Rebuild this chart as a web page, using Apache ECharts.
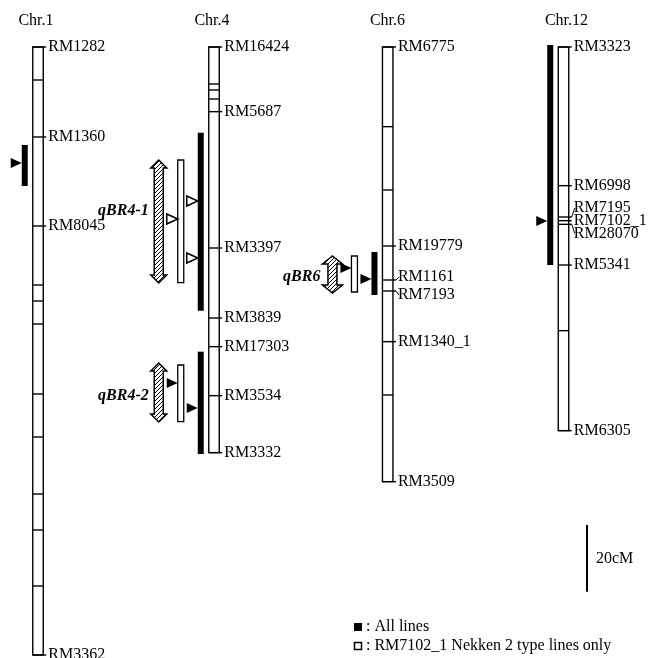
<!DOCTYPE html>
<html>
<head>
<meta charset="utf-8">
<script src="https://cdn.jsdelivr.net/npm/echarts@6/dist/echarts.min.js"></script>
<style>html,body{margin:0;padding:0;background:#fff}#main{width:649px;height:658px}</style>
</head>
<body>
<div id="main"></div>
<script>
// chromosomes (positions in cM from the top of each chromosome)
var chromNames = ['Chr.1', 'Chr.4', 'Chr.6', 'Chr.12'];
var chromLength = [182.4, 121.7, 130.4, 115.1];

var chr1Pos = [0, 9.9, 27.0, 53.7, 71.4, 76.2, 83.1, 104.1, 117.0, 134.1, 144.9, 161.7, 182.4];
var chr1Names = ['RM1282', '', 'RM1360', 'RM8045', '', '', '', '', '', '', '', '', 'RM3362'];
var chr4Pos = [0, 11.1, 12.9, 15.6, 19.4, 60.3, 81.3, 89.9, 104.6, 121.7];
var chr4Names = ['RM16424', '', '', '', 'RM5687', 'RM3397', 'RM3839', 'RM17303', 'RM3534', 'RM3332'];
var chr6Pos = [0, 23.9, 42.9, 59.7, 69.9, 73.2, 88.4, 104.4, 130.4];
var chr6Names = ['RM6775', '', '', 'RM19779', 'RM1161', 'RM7193', 'RM1340_1', '', 'RM3509'];
var chr12Pos = [0, 41.6, 51.0, 52.1, 53.2, 65.4, 85.1, 115.1];
var chr12Names = ['RM3323', 'RM6998', 'RM7195', 'RM7102_1', 'RM28070', 'RM5341', '', 'RM6305'];

// regions: all lines (black) and RM7102_1 Nekken 2 type lines only (open)
var allChrom = [0, 1, 1, 2, 3];
var allStart = [29.4, 25.7, 91.4, 61.5, -0.6];
var allEnd = [41.7, 79.1, 122.1, 74.4, 65.4];
var nekChrom = [1, 1, 2];
var nekStart = [33.9, 95.4, 62.7];
var nekEnd = [70.7, 112.4, 73.5];

// peak triangles
var peakChrom = [0, 1, 1, 1, 1, 1, 2, 2, 3];
var peakPos = [34.8, 46.2, 51.6, 63.3, 100.8, 108.3, 66.3, 69.6, 52.2];
var peakSet = ['all', 'all', 'nek', 'all', 'nek', 'all', 'nek', 'all', 'all'];
var peakSolid = [true, false, false, false, true, true, true, true, true];

// QTL
var qtlNames = ['qBR4-1', 'qBR4-2', 'qBR6'];
var qtlChrom = [1, 1, 2];
var qtlStart = [33.9, 94.8, 62.7];
var qtlEnd = [70.8, 112.5, 73.8];

var scaleBarLen = 20;
var legendTexts = [': All lines', ': RM7102_1 Nekken 2 type lines only'];

// layout
var markerPos = [chr1Pos, chr4Pos, chr6Pos, chr12Pos];
var markerNames = [chr1Names, chr4Names, chr6Names, chr12Names];
var chromX = [38, 214, 387.7, 563.5];
var titleX = [36, 212, 387.5, 566.5];
var chromW = 10.5;
var labelShift = [{}, {}, {RM1161: -3, RM7193: 4}, {RM7195: -9, RM28070: 9}];
var qtlLabelDy = [-10.5, 3, 2];
var qtlHalfW = [8, 8, 10];
var FONT = '"Liberation Serif", "Times New Roman", serif';

var hatch = document.createElement('canvas');
hatch.width = 4; hatch.height = 4;
var hc = hatch.getContext('2d');
hc.fillStyle = '#fff'; hc.fillRect(0, 0, 4, 4);
hc.strokeStyle = '#000'; hc.lineWidth = 1;
hc.beginPath();
hc.moveTo(0, 4); hc.lineTo(4, 0);
hc.moveTo(-1, 1); hc.lineTo(1, -1);
hc.moveTo(3, 5); hc.lineTo(5, 3);
hc.stroke();

function yOf(api, cm) { return api.coord([0, cm])[1]; }

function renderChrom(params, api) {
  var i = api.value(0);
  var left = chromX[i] - chromW / 2, right = chromX[i] + chromW / 2;
  var top = yOf(api, 0), bot = yOf(api, chromLength[i]);
  var ch = [{
    type: 'rect', shape: {x: left, y: top, width: chromW, height: bot - top},
    style: {fill: '#fff', stroke: '#000', lineWidth: 1.4}
  }];
  var pos = markerPos[i], names = markerNames[i], sh = labelShift[i];
  for (var k = 0; k < pos.length; k++) {
    var y = yOf(api, pos[k]);
    var named = names[k] !== '';
    ch.push({type: 'line', shape: {x1: left, y1: y, x2: named ? right + 3 : right, y2: y},
      style: {stroke: '#000', lineWidth: 1.4}});
    if (named) {
      var ly = y + (sh[names[k]] || 0);
      if (ly !== y) {
        ch.push({type: 'line', shape: {x1: right + 3, y1: y, x2: right + 6, y2: ly},
          style: {stroke: '#000', lineWidth: 1}});
      }
      ch.push({type: 'text', style: {text: names[k], x: right + 5, y: ly,
        fill: '#000', fontSize: 16, fontFamily: FONT, align: 'left', verticalAlign: 'middle'}});
    }
  }
  ch.push({type: 'text', style: {text: chromNames[i], x: titleX[i], y: top - 26,
    fill: '#000', fontSize: 16, fontFamily: FONT, align: 'center', verticalAlign: 'middle'}});
  return {type: 'group', children: ch};
}

function renderRegion(chromArr, startArr, endArr, offset, filled) {
  return function (params, api) {
    var i = api.value(0);
    var left = chromX[chromArr[i]] - chromW / 2 + offset;
    var y1 = yOf(api, startArr[i]), y2 = yOf(api, endArr[i]);
    return {type: 'rect', shape: {x: left, y: y1, width: 6, height: y2 - y1},
      style: filled ? {fill: '#000'} : {fill: '#fff', stroke: '#000', lineWidth: 1.3}};
  };
}

function renderPeak(params, api) {
  var i = api.value(0);
  var tip = chromX[peakChrom[i]] - chromW / 2 + (peakSet[i] === 'all' ? -11 : -31);
  var y = yOf(api, peakPos[i]);
  return {type: 'polygon', shape: {points: [[tip, y], [tip - 11, y - 5], [tip - 11, y + 5]]},
    style: peakSolid[i] ? {fill: '#000'} : {fill: '#fff', stroke: '#000', lineWidth: 1.5}};
}

function renderQtl(params, api) {
  var i = api.value(0);
  var cx = chromX[qtlChrom[i]] - chromW / 2 - 50;
  var y1 = yOf(api, qtlStart[i]), y2 = yOf(api, qtlEnd[i]);
  var hw = qtlHalfW[i], sw = 4.5, hl = 8;
  var pts = [[cx, y1], [cx + hw, y1 + hl], [cx + sw, y1 + hl], [cx + sw, y2 - hl], [cx + hw, y2 - hl],
    [cx, y2], [cx - hw, y2 - hl], [cx - sw, y2 - hl], [cx - sw, y1 + hl], [cx - hw, y1 + hl]];
  return {type: 'group', children: [
    {type: 'polygon', shape: {points: pts},
      style: {fill: {image: hatch, repeat: 'repeat'}, stroke: '#000', lineWidth: 1.5}},
    {type: 'text', style: {text: qtlNames[i], x: cx - hw - 2, y: (y1 + y2) / 2 + qtlLabelDy[i],
      fill: '#000', fontSize: 16, fontFamily: FONT, fontWeight: 'bold', fontStyle: 'italic',
      align: 'right', verticalAlign: 'middle'}}
  ]};
}

function renderScale(params, api) {
  var y1 = yOf(api, 143.4), y2 = yOf(api, 143.4 + scaleBarLen);
  return {type: 'group', children: [
    {type: 'line', shape: {x1: 587, y1: y1, x2: 587, y2: y2}, style: {stroke: '#000', lineWidth: 2}},
    {type: 'text', style: {text: scaleBarLen + 'cM', x: 596, y: (y1 + y2) / 2, fill: '#000',
      fontSize: 16, fontFamily: FONT, align: 'left', verticalAlign: 'middle'}}
  ]};
}

function idx(arr) { return arr.map(function (d, i) { return [i]; }); }

var chart = echarts.init(document.getElementById('main'));
var option = {
  backgroundColor: '#fff',
  animation: false,
  grid: {left: 0, right: 0, top: 0, bottom: 0},
  xAxis: {type: 'value', min: 0, max: 649, show: false},
  yAxis: {type: 'value', min: -14.1, max: 183.3, inverse: true, show: false},
  graphic: [
    {type: 'rect', shape: {x: 354, y: 623, width: 8, height: 8}, style: {fill: '#000'}},
    {type: 'text', style: {text: legendTexts[0], x: 366, y: 627, fill: '#000', fontSize: 16,
      fontFamily: FONT, verticalAlign: 'middle'}},
    {type: 'rect', shape: {x: 354.5, y: 642.5, width: 7, height: 7},
      style: {fill: '#fff', stroke: '#000', lineWidth: 1.5}},
    {type: 'text', style: {text: legendTexts[1], x: 366, y: 646, fill: '#000', fontSize: 16,
      fontFamily: FONT, verticalAlign: 'middle'}}
  ],
  series: [
    {type: 'custom', renderItem: renderChrom, data: idx(chromNames), silent: true},
    {type: 'custom', renderItem: renderRegion(allChrom, allStart, allEnd, -11, true), data: idx(allChrom), silent: true},
    {type: 'custom', renderItem: renderRegion(nekChrom, nekStart, nekEnd, -31, false), data: idx(nekChrom), silent: true},
    {type: 'custom', renderItem: renderPeak, data: idx(peakPos), silent: true},
    {type: 'custom', renderItem: renderQtl, data: idx(qtlNames), silent: true},
    {type: 'custom', renderItem: renderScale, data: [[0]], silent: true}
  ]
};
chart.setOption(option);
</script>
</body>
</html>
